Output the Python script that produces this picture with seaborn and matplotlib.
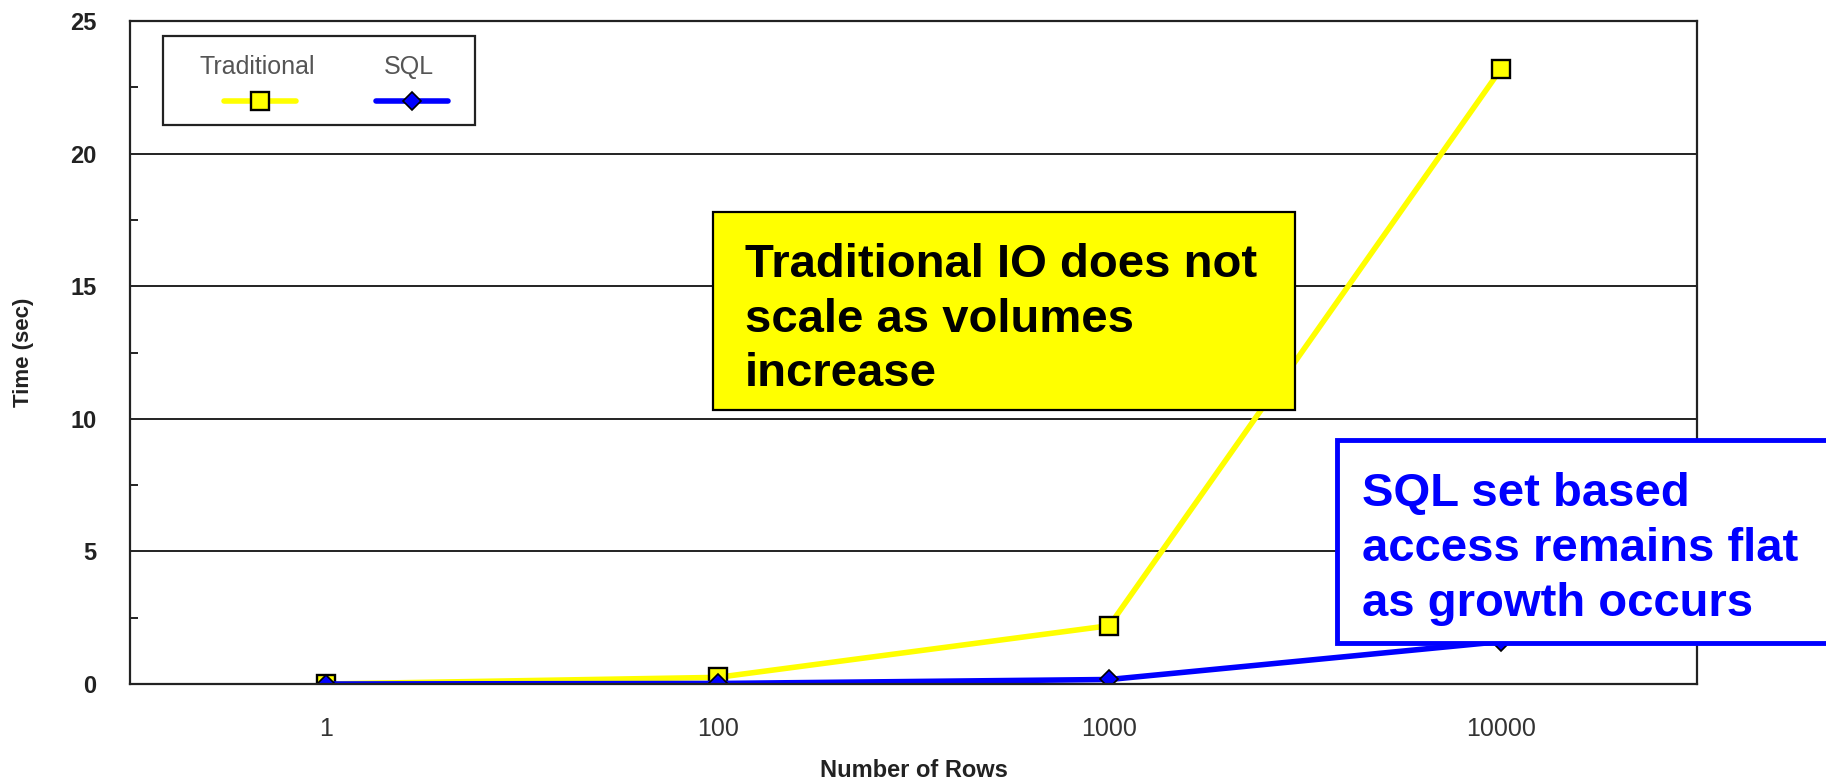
import pandas as pd
import matplotlib
matplotlib.use("Agg")
import matplotlib.pyplot as plt
from matplotlib.patches import Rectangle
from matplotlib.lines import Line2D
from matplotlib.ticker import MultipleLocator
import seaborn as sns

# data
rows = ["1", "100", "1000", "10000"]
traditional = [0.0, 0.25, 2.2, 23.2]
sql = [0.0, 0.02, 0.17, 1.6]

df = pd.DataFrame({"rows": rows, "Traditional": traditional, "SQL": sql})

sns.set_theme(style="white")
plt.rcParams["font.family"] = ["Liberation Sans", "DejaVu Sans"]

fig = plt.figure(figsize=(18.26, 7.83), dpi=100)
ax = fig.add_axes([130 / 1826, 1 - 684 / 783, 1567 / 1826, 663 / 783])

yellow = "#FFFF00"
blue = "#0000FF"

sns.lineplot(data=df, x="rows", y="Traditional", sort=False, ax=ax,
             color=yellow, lw=4.0, marker="s", markersize=13,
             markerfacecolor=yellow, markeredgecolor="black", markeredgewidth=1.7)
sns.lineplot(data=df, x="rows", y="SQL", sort=False, ax=ax,
             color=blue, lw=4.0, marker="D", markersize=9,
             markerfacecolor=blue, markeredgecolor="black", markeredgewidth=1.2)

ax.set_xlim(-0.5, 3.5)
ax.set_ylim(0, 25)
ax.yaxis.set_major_locator(MultipleLocator(5))
ax.yaxis.set_minor_locator(MultipleLocator(2.5))
ax.yaxis.grid(True, which="major", color="#222222", lw=1.4)
ax.xaxis.grid(False)

for s in ax.spines.values():
    s.set_color("#222222")
    s.set_linewidth(1.6)

ax.tick_params(axis="y", which="major", length=0, pad=24, labelsize=17,
               labelcolor="#222222")
ax.tick_params(axis="y", which="minor", left=True, direction="in", length=6,
               width=1.4, color="#222222")
ax.tick_params(axis="x", length=0, pad=24, labelsize=18, labelcolor="#333333")
for lab in ax.get_yticklabels():
    lab.set_fontweight("bold")

ax.set_xlabel("Number of Rows", fontsize=17, fontweight="bold", color="#222222",
              labelpad=13)
ax.set_ylabel("Time (sec)", fontsize=16, fontweight="bold", color="#222222",
              labelpad=26)

# legend box, labels above the line samples
ax.add_patch(Rectangle((0.021, 0.843), 0.199, 0.134, transform=ax.transAxes,
                       facecolor="white", edgecolor="#222222", lw=1.6, zorder=5))
ax.text(0.081, 0.931, "Traditional", transform=ax.transAxes, ha="center",
        va="center", fontsize=18, color="#555555", zorder=6)
ax.text(0.178, 0.931, "SQL", transform=ax.transAxes, ha="center",
        va="center", fontsize=18, color="#555555", zorder=6)
ax.add_line(Line2D([0.060, 0.106], [0.880, 0.880], transform=ax.transAxes,
                   color=yellow, lw=4.0, zorder=6))
ax.add_line(Line2D([0.083], [0.880], transform=ax.transAxes, marker="s",
                   markersize=13, markerfacecolor=yellow, markeredgecolor="black",
                   markeredgewidth=1.7, zorder=7))
ax.add_line(Line2D([0.157, 0.203], [0.880, 0.880], transform=ax.transAxes,
                   color=blue, lw=4.0, zorder=6))
ax.add_line(Line2D([0.180], [0.880], transform=ax.transAxes, marker="D",
                   markersize=9, markerfacecolor=blue, markeredgecolor="black",
                   markeredgewidth=1.2, zorder=7))

# callout boxes
fig.add_artist(Rectangle((0.3905, 0.4764), 0.3187, 0.2528, transform=fig.transFigure,
                         facecolor=yellow, edgecolor="black", lw=1.6))
fig.text(0.408, 0.690, "Traditional IO does not\nscale as volumes\nincrease",
         ha="left", va="top", fontsize=34, fontweight="bold", color="black",
         linespacing=1.32)

fig.add_artist(Rectangle((0.7322, 0.1788), 0.30, 0.2593, transform=fig.transFigure,
                         facecolor="white", edgecolor=blue, lw=3.5, clip_on=False))
fig.text(0.746, 0.397, "SQL set based\naccess remains flat\nas growth occurs",
         ha="left", va="top", fontsize=34, fontweight="bold", color=blue,
         linespacing=1.32)

fig.savefig("out.png", dpi=100)
